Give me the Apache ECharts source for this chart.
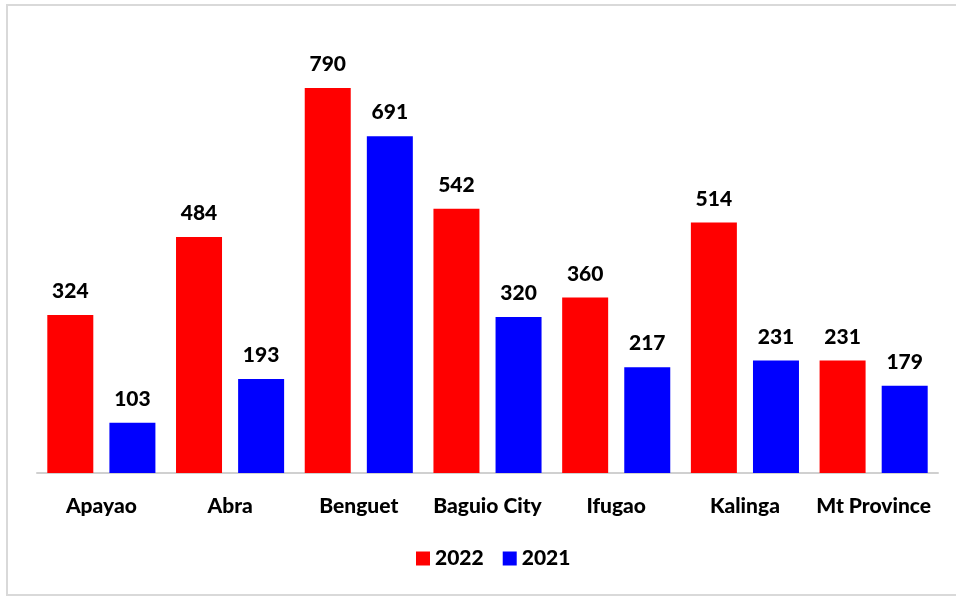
<!DOCTYPE html>
<html>
<head>
<meta charset="utf-8">
<script src="https://cdn.jsdelivr.net/npm/echarts@6/dist/echarts.min.js"></script>
<style>
  html, body { margin: 0; padding: 0; background: #fff; }
  #chart { width: 956px; height: 597px; }
</style>
</head>
<body>
<div id="chart"></div>
<script>
var provinces = ['Apayao', 'Abra', 'Benguet', 'Baguio City', 'Ifugao', 'Kalinga', 'Mt Province'];
var values2022 = [324, 484, 790, 542, 360, 514, 231];
var values2021 = [103, 193, 691, 320, 217, 231, 179];

var font = 'Lato, "Open Sans", sans-serif';

var myChart = echarts.init(document.getElementById('chart'));

var labelStyle = {
    show: true,
    position: 'top',
    distance: 13,
    color: '#000',
    fontSize: 21,
    fontWeight: 900,
    fontFamily: font
};

var option = {
    animation: false,
    graphic: [{
        type: 'rect',
        shape: { x: 7, y: 5, width: 960, height: 590 },
        style: { fill: 'none', stroke: '#d9d9d9', lineWidth: 2 },
        silent: true
    }],
    grid: { left: 37, right: 18, top: 83, bottom: 124 },
    legend: {
        bottom: 23,
        left: 411,
        itemWidth: 14,
        itemHeight: 14,
        itemGap: 19,
        icon: 'rect',
        textStyle: { color: '#000', fontSize: 21, fontWeight: 900, fontFamily: font },
        data: ['2022', '2021']
    },
    xAxis: {
        type: 'category',
        data: provinces,
        axisLine: { lineStyle: { color: '#d0d0d0', width: 2 } },
        axisTick: { show: false },
        axisLabel: { interval: 0, color: '#000', fontSize: 21, fontWeight: 900, fontFamily: font, margin: 23 }
    },
    yAxis: {
        type: 'value',
        min: 0,
        max: 800,
        show: false,
        splitLine: { show: false }
    },
    series: [{
        name: '2022',
        type: 'bar',
        data: values2022,
        barWidth: 46,
        barGap: '35%',
        itemStyle: { color: '#ff0000' },
        label: labelStyle
    }, {
        name: '2021',
        type: 'bar',
        data: values2021,
        barWidth: 46,
        itemStyle: { color: '#0000ff' },
        label: labelStyle
    }]
};

myChart.setOption(option);
</script>
</body>
</html>
